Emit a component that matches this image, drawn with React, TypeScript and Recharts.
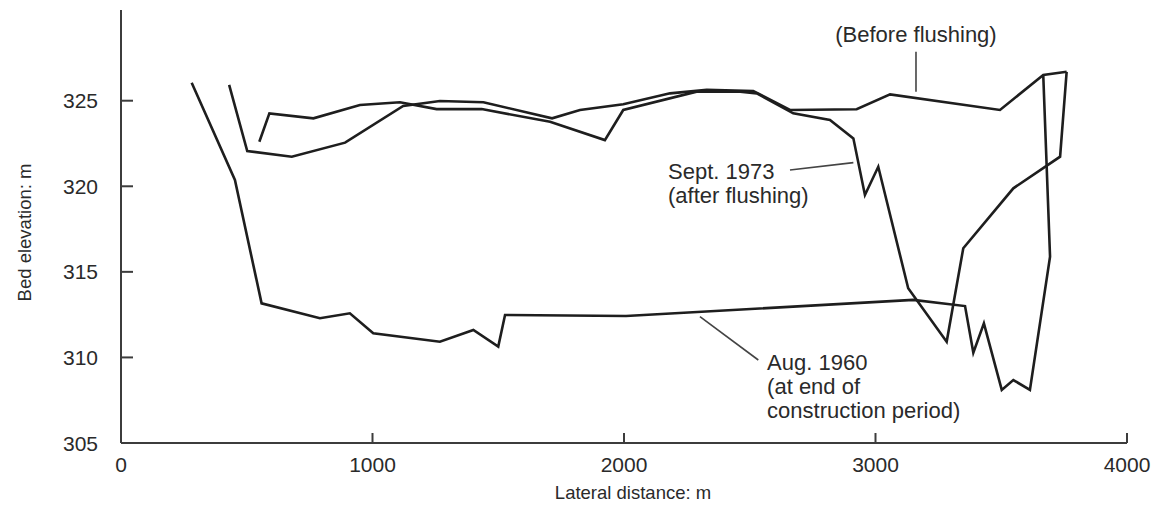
import React from 'react';
import {
  LineChart,
  Line,
  XAxis,
  YAxis,
  ReferenceLine,
  ReferenceDot,
} from 'recharts';

// Lateral distance (m) and bed elevation (m)
const aug1960Dist = [281, 453, 559, 791, 910, 1003, 1268, 1401, 1500, 1527, 2008, 3150, 3356, 3389, 3431, 3502, 3548, 3614, 3694, 3667];
const aug1960Elev = [326.05, 320.37, 313.16, 312.29, 312.58, 311.41, 310.92, 311.6, 310.63, 312.48, 312.42, 313.36, 313.0, 310.28, 311.99, 308.1, 308.68, 308.1, 315.89, 326.5];

const beforeDist = [430, 502, 679, 891, 1122, 1268, 1441, 1714, 1825, 1997, 2183, 2329, 2514, 2660, 2925, 3058, 3495, 3667, 3760];
const beforeElev = [325.92, 322.06, 321.73, 322.55, 324.69, 324.98, 324.91, 323.97, 324.46, 324.79, 325.43, 325.63, 325.57, 324.46, 324.5, 325.37, 324.46, 326.5, 326.69];

const sept1973Dist = [550, 590, 765, 950, 1109, 1255, 1434, 1706, 1924, 1997, 2289, 2462, 2528, 2673, 2819, 2912, 2958, 3011, 3130, 3283, 3349, 3548, 3734, 3760];
const sept1973Elev = [322.6, 324.26, 323.97, 324.75, 324.91, 324.51, 324.51, 323.77, 322.7, 324.46, 325.53, 325.53, 325.43, 324.26, 323.87, 322.8, 319.49, 321.14, 314.04, 310.92, 316.38, 319.88, 321.73, 326.69];

const xTicks = [0, 1000, 2000, 3000, 4000];
const yTicks = [305, 310, 315, 320, 325];

// Annotation text and leader lines (data coordinates)
const beforeLabel = ['(Before flushing)'];
const beforeLabelAt = { x: 3161, y: 328.45 };
const beforeLeader = [{ x: 3161, y: 327.86 }, { x: 3161, y: 325.53 }];

const septLabel = ['Sept. 1973', '(after flushing)'];
const septLabelAt = { x: 2175, y: 320.43 };
const septLeader = [{ x: 2660, y: 320.95 }, { x: 2912, y: 321.38 }];

const augLabel = ['Aug. 1960', '(at end of', 'construction period)'];
const augLabelAt = { x: 2569, y: 309.27 };
const augLeader = [{ x: 2302, y: 312.38 }, { x: 2534, y: 309.85 }];

const toPoints = (dist: number[], elev: number[]) =>
  dist.map((d, i) => ({ dist: d, elev: elev[i] }));

const FONT = '"Liberation Sans", Arial, Helvetica, sans-serif';
const INK = '#1e1e1e';
const AXIS = '#3c3c3c';
const TEXT = '#2a2a2a';

const XTick = (props: any) => {
  const { x, y, payload } = props;
  return (
    <g>
      <line x1={x} y1={y} x2={x} y2={y - 10} stroke={AXIS} strokeWidth={2} />
      <text x={x} y={y + 29} textAnchor="middle" fontSize={21} fontFamily={FONT} fill={TEXT}>
        {payload.value}
      </text>
    </g>
  );
};

const YTick = (props: any) => {
  const { x, y, payload } = props;
  return (
    <g>
      <line x1={x} y1={y} x2={x + 12} y2={y} stroke={AXIS} strokeWidth={2} />
      <text x={x - 23} y={y + 7.5} textAnchor="end" fontSize={21} fontFamily={FONT} fill={TEXT}>
        {payload.value}
      </text>
    </g>
  );
};

const noteLabel = (lines: string[], anchor: 'start' | 'middle') => (props: any) => {
  const { viewBox } = props;
  return (
    <text x={viewBox.x} y={viewBox.y} textAnchor={anchor} fontSize={22} fontFamily={FONT} fill={TEXT}>
      {lines.map((line, i) => (
        <tspan key={line} x={viewBox.x} dy={i === 0 ? 0 : 24}>
          {line}
        </tspan>
      ))}
    </text>
  );
};

export default function App() {
  const aug1960 = toPoints(aug1960Dist, aug1960Elev);
  const before = toPoints(beforeDist, beforeElev);
  const sept1973 = toPoints(sept1973Dist, sept1973Elev);

  return (
    <div style={{ width: 1153, height: 505 }}>
      <LineChart width={1153} height={505} margin={{ top: 2, right: 34, bottom: 30, left: 0 }}>
        <XAxis
          type="number"
          dataKey="dist"
          domain={[0, 4000]}
          ticks={xTicks}
          tick={<XTick />}
          tickLine={false}
          tickSize={0}
          tickMargin={0}
          height={40}
          axisLine={{ stroke: AXIS, strokeWidth: 2 }}
          label={(props: any) => {
            const { viewBox } = props;
            return (
              <text
                x={viewBox.x + viewBox.width / 2 + 9}
                y={viewBox.y + 56}
                textAnchor="middle"
                fontSize={18.5}
                fontFamily={FONT}
                fill={TEXT}
              >
                Lateral distance: m
              </text>
            );
          }}
        />
        <YAxis
          type="number"
          dataKey="elev"
          domain={[305, 330.3]}
          ticks={yTicks}
          tick={<YTick />}
          tickLine={false}
          tickSize={0}
          tickMargin={0}
          width={113}
          axisLine={{ stroke: AXIS, strokeWidth: 2 }}
          label={(props: any) => {
            const { viewBox } = props;
            const cx = 16;
            const cy = viewBox.y + viewBox.height / 2 + 6;
            return (
              <text
                x={cx}
                y={cy}
                transform={`rotate(-90 ${cx} ${cy})`}
                textAnchor="middle"
                dominantBaseline="central"
                fontSize={18.5}
                fontFamily={FONT}
                fill={TEXT}
              >
                Bed elevation: m
              </text>
            );
          }}
        />

        <Line data={aug1960} dataKey="elev" type="linear" dot={false} stroke={INK} strokeWidth={2.6} isAnimationActive={false} />
        <Line data={before} dataKey="elev" type="linear" dot={false} stroke={INK} strokeWidth={2.6} isAnimationActive={false} />
        <Line data={sept1973} dataKey="elev" type="linear" dot={false} stroke={INK} strokeWidth={2.6} isAnimationActive={false} />

        <ReferenceLine segment={beforeLeader} stroke="#444" strokeWidth={1.6} ifOverflow="visible" />
        <ReferenceLine segment={septLeader} stroke="#444" strokeWidth={1.6} ifOverflow="visible" />
        <ReferenceLine segment={augLeader} stroke="#444" strokeWidth={1.6} ifOverflow="visible" />

        <ReferenceDot x={beforeLabelAt.x} y={beforeLabelAt.y} r={0} fill="none" stroke="none" ifOverflow="visible" label={noteLabel(beforeLabel, 'middle')} />
        <ReferenceDot x={septLabelAt.x} y={septLabelAt.y} r={0} fill="none" stroke="none" ifOverflow="visible" label={noteLabel(septLabel, 'start')} />
        <ReferenceDot x={augLabelAt.x} y={augLabelAt.y} r={0} fill="none" stroke="none" ifOverflow="visible" label={noteLabel(augLabel, 'start')} />
      </LineChart>
    </div>
  );
}
